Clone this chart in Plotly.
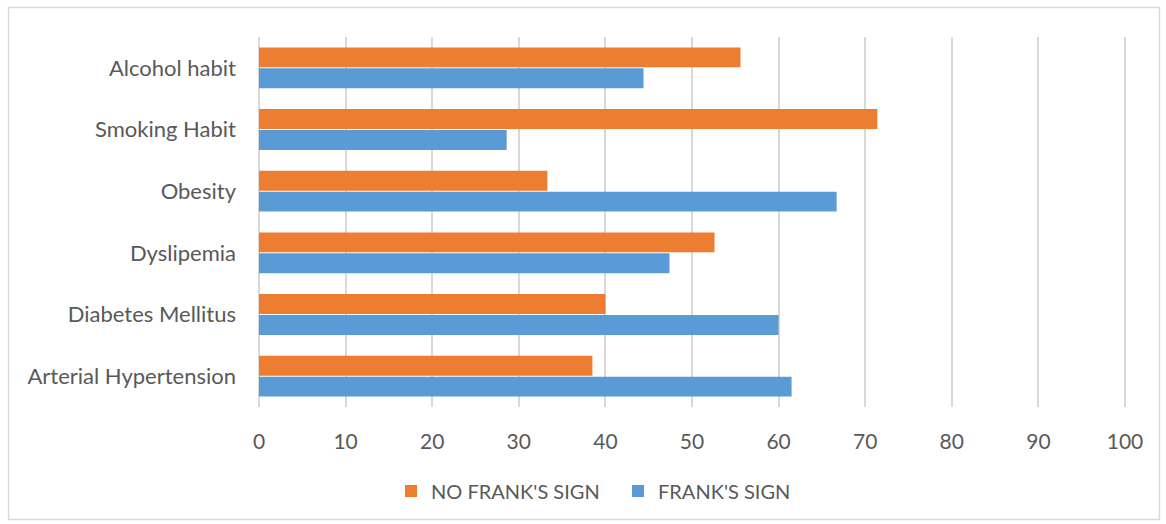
import plotly.graph_objects as go

categories = ["Arterial Hypertension", "Diabetes Mellitus", "Dyslipemia", "Obesity", "Smoking Habit", "Alcohol habit"]
frank_sign = [61.5, 60.0, 47.4, 66.7, 28.6, 44.4]
no_frank_sign = [38.5, 40.0, 52.6, 33.3, 71.4, 55.6]
x_ticks = list(range(0, 101, 10))

W, H = 1166, 524
ML, MR, MT, MB = 259, 37, 37, 117
pw, ph = W - ML - MR, H - MT - MB
x_max = 100 * pw / 866.0

font = "Lato, 'Open Sans', sans-serif"
fig = go.Figure()
fig.add_trace(go.Bar(y=categories, x=frank_sign, orientation="h", name="FRANK'S SIGN",
                     marker=dict(color="#5B9BD5", line=dict(width=0))))
fig.add_trace(go.Bar(y=categories, x=no_frank_sign, orientation="h", name="NO FRANK'S SIGN",
                     marker=dict(color="#ED7D31", line=dict(width=0))))

def px_x(p):
    return (p - ML) / pw

def px_y(p):
    return 1 - (p - MT) / ph

fig.add_shape(type="rect", xref="paper", yref="paper",
              x0=px_x(8.5), x1=px_x(1159.5), y0=px_y(519.5), y1=px_y(7.5),
              line=dict(color="#D9D9D9", width=1.5), fillcolor="rgba(0,0,0,0)", layer="below")

fig.update_layout(
    width=W, height=H, autosize=False,
    margin=dict(l=ML, r=MR, t=MT, b=MB),
    paper_bgcolor="white", plot_bgcolor="white",
    barmode="group", bargap=0.32, bargroupgap=0.05,
    font=dict(family=font, size=21, color="#595959"),
    showlegend=True,
    legend=dict(orientation="h", x=px_x(391), xanchor="left", y=px_y(491), yanchor="middle",
                traceorder="reversed", font=dict(size=20, color="#595959"),
                itemwidth=30, entrywidth=182),
    xaxis=dict(range=[0, x_max], tickvals=x_ticks, showgrid=True, gridcolor="#D9D9D9", gridwidth=1.5,
               zeroline=True, zerolinecolor="#D9D9D9", zerolinewidth=2, showline=False,
               ticks="", ticklabelstandoff=20, tickfont=dict(size=21, color="#595959")),
    yaxis=dict(showgrid=False, showline=False, ticks="", ticklabelstandoff=22,
               tickfont=dict(size=22, color="#595959")),
)

fig.write_html("out.html")
